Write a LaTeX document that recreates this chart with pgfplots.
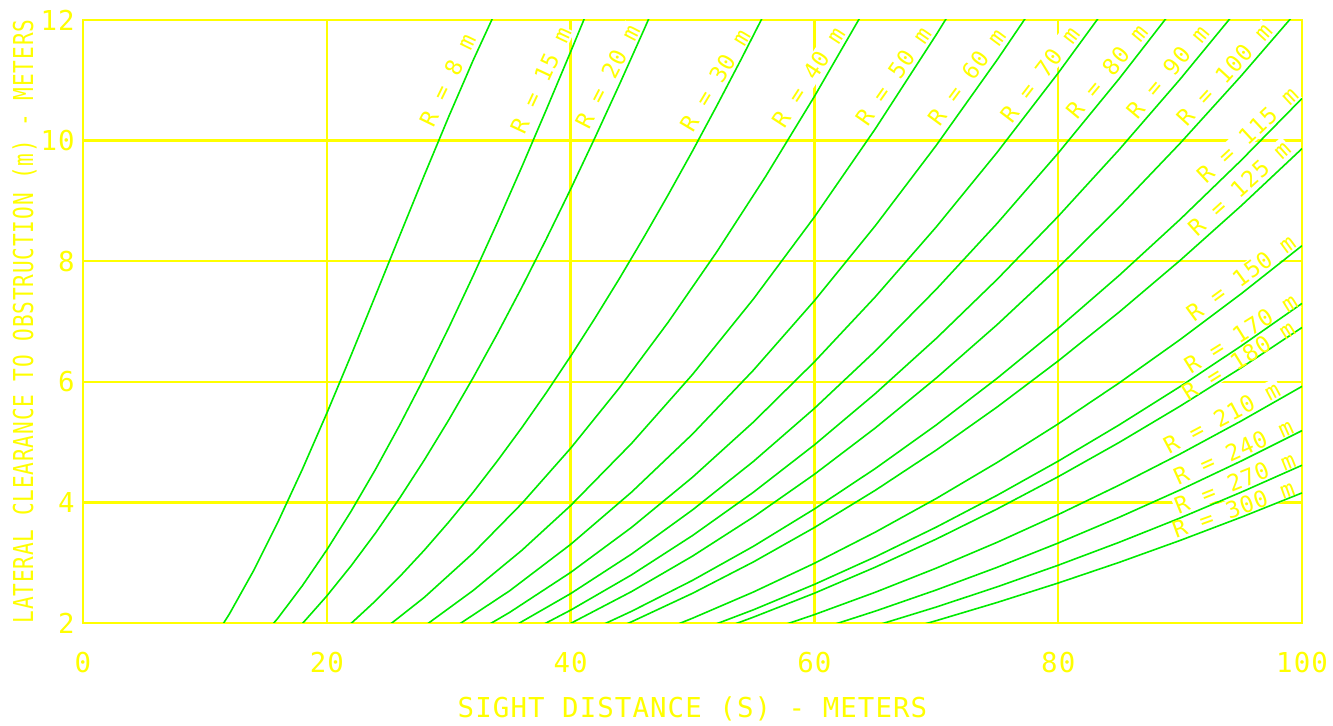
\documentclass[border=0pt]{standalone}
\usepackage{pgfplots}
\pgfplotsset{compat=1.18}
\usepackage{fontspec}
\newfontfamily\cad{DejaVu Sans Mono}[LetterSpace=4.0]
\definecolor{cy}{RGB}{255,255,0}
\definecolor{cg}{RGB}{0,235,0}
\tikzset{lab/.style={font=\cad\fontsize{11.4}{12}\selectfont, text=cy, inner sep=0.7pt},
  curve/.style={draw=cg, line width=0.8pt, mark=none, solid}}
\newcommand\curvelabels[1]{%
 \node[#1,rotate=64] at (axis cs:29.90,11.00) {R = 8 m};
 \node[#1,rotate=65] at (axis cs:37.56,11.00) {R = 15 m};
 \node[#1,rotate=62.6] at (axis cs:43.03,11.06) {R = 20 m};
 \node[#1,rotate=59] at (axis cs:51.85,11.00) {R = 30 m};
 \node[#1,rotate=57] at (axis cs:59.50,11.05) {R = 40 m};
 \node[#1,rotate=55] at (axis cs:66.47,11.07) {R = 50 m};
 \node[#1,rotate=53.5] at (axis cs:72.49,11.06) {R = 60 m};
 \node[#1,rotate=52.5] at (axis cs:78.50,11.10) {R = 70 m};
 \node[#1,rotate=50.5] at (axis cs:83.98,11.14) {R = 80 m};
 \node[#1,rotate=50] at (axis cs:88.97,11.14) {R = 90 m};
 \node[#1,rotate=47.4] at (axis cs:93.62,11.10) {R = 100 m};
 \node[#1,rotate=43] at (axis cs:95.53,10.09) {R = 115 m};
 \node[#1,rotate=42] at (axis cs:94.85,9.21) {R = 125 m};
 \node[#1,rotate=36.3] at (axis cs:94.98,7.73) {R = 150 m};
 \node[#1,rotate=32] at (axis cs:94.97,6.80) {R = 170 m};
 \node[#1,rotate=32] at (axis cs:94.78,6.36) {R = 180 m};
 \node[#1,rotate=28] at (axis cs:93.41,5.41) {R = 210 m};
 \node[#1,rotate=24.3] at (axis cs:94.37,4.84) {R = 240 m};
 \node[#1,rotate=22] at (axis cs:94.50,4.33) {R = 270 m};
 \node[#1,rotate=20] at (axis cs:94.37,3.89) {R = 300 m};
}
\begin{document}
\begin{tikzpicture}
\begin{axis}[
  scale only axis, width=609.5pt, height=301.5pt,
  xmin=0, xmax=100, ymin=2, ymax=12,
  xtick={0,20,40,60,80,100}, ytick={2,4,6,8,10,12},
  grid=major,
  major grid style={cy, line width=1.2pt},
  axis line style={cy, line width=1.2pt},
  major tick length=0pt,
  /pgf/number format/assume math mode=true,
  ticklabel style={font=\cad\fontsize{13.7}{14}\selectfont, text=cy, inner sep=0pt},
  xticklabel style={anchor=base, yshift=-25pt},
  yticklabel style={anchor=east, xshift=-4pt},
  xlabel={SIGHT DISTANCE (S) - METERS},
  ylabel={\scalebox{0.77}[1]{LATERAL CLEARANCE TO OBSTRUCTION (m) - METERS}},
  label style={font=\cad\fontsize{13.7}{14}\selectfont, text=cy, inner sep=0pt},
  xlabel style={at={(axis description cs:0.5,0)}, anchor=base, yshift=-47.5pt},
  ylabel style={at={(axis description cs:-0.04102,0.5)}, anchor=base},
]
\curvelabels{lab,fill=white,text opacity=0}
% R = 8
\addplot[curve] coordinates {(10,1.512) (12,2.146) (14,2.870) (16,3.678) (18,4.551) (20,5.478) (22,6.444) (24,7.434) (26,8.433) (28,9.426) (30,10.396) (32,11.329) (34,12.206)};
% R = 15
\addplot[curve] coordinates {(14,1.604) (16,2.083) (18,2.620) (20,3.212) (22,3.855) (24,4.549) (26,5.290) (28,6.072) (30,6.895) (32,7.755) (34,8.645) (36,9.565) (38,10.509) (40,11.471) (42,12.450)};
% R = 20
\addplot[curve] coordinates {(16,1.579) (18,1.991) (20,2.448) (22,2.950) (24,3.493) (26,4.078) (28,4.703) (30,5.366) (32,6.066) (34,6.800) (36,7.568) (38,8.366) (40,9.194) (42,10.049) (44,10.928) (46,11.830) (48,12.753)};
% R = 30
\addplot[curve] coordinates {(20,1.651) (22,1.994) (24,2.368) (26,2.773) (28,3.208) (30,3.673) (32,4.166) (34,4.690) (36,5.240) (38,5.818) (40,6.423) (42,7.055) (44,7.711) (46,8.394) (48,9.099) (50,9.827) (52,10.580) (54,11.352) (56,12.144)};
% R = 40
\addplot[curve] coordinates {(24,1.787) (28,2.425) (32,3.158) (36,3.982) (40,4.897) (44,5.899) (48,6.987) (52,8.157) (56,9.406) (60,10.732) (64,12.132)};
% R = 50
\addplot[curve] coordinates {(28,1.947) (32,2.538) (36,3.205) (40,3.947) (45,4.978) (50,6.121) (55,7.374) (60,8.733) (65,10.196) (70,11.758) (72,12.410)};
% R = 60
\addplot[curve] coordinates {(30,1.865) (35,2.534) (40,3.303) (45,4.170) (50,5.133) (55,6.193) (60,7.345) (65,8.589) (70,9.922) (75,11.342) (78,12.235)};
% R = 70
\addplot[curve] coordinates {(32,1.821) (35,2.176) (40,2.838) (45,3.585) (50,4.417) (55,5.333) (60,6.331) (65,7.410) (70,8.569) (75,9.807) (80,11.121) (84,12.227)};
% R = 80
\addplot[curve] coordinates {(35,1.906) (40,2.487) (45,3.143) (50,3.875) (55,4.680) (60,5.559) (65,6.511) (70,7.535) (75,8.629) (80,9.793) (85,11.026) (90,12.326)};
% R = 90
\addplot[curve] coordinates {(37,1.895) (40,2.213) (45,2.798) (50,3.450) (55,4.169) (60,4.954) (65,5.805) (70,6.720) (75,7.700) (80,8.744) (85,9.850) (90,11.018) (95,12.247)};
% R = 100
\addplot[curve] coordinates {(40,1.993) (45,2.521) (50,3.109) (55,3.758) (60,4.466) (65,5.235) (70,6.063) (75,6.949) (80,7.894) (85,8.896) (90,9.955) (95,11.071) (100,12.242)};
% R = 115
\addplot[curve] coordinates {(42,1.912) (45,2.194) (50,2.707) (55,3.272) (60,3.891) (65,4.562) (70,5.285) (75,6.060) (80,6.887) (85,7.764) (90,8.693) (95,9.671) (100,10.699)};
% R = 125
\addplot[curve] coordinates {(44,1.931) (45,2.020) (50,2.492) (55,3.013) (60,3.583) (65,4.201) (70,4.868) (75,5.583) (80,6.346) (85,7.156) (90,8.013) (95,8.917) (100,9.867)};
% R = 150
\addplot[curve] coordinates {(48,1.916) (50,2.079) (55,2.514) (60,2.990) (65,3.507) (70,4.065) (75,4.663) (80,5.302) (85,5.981) (90,6.700) (95,7.458) (100,8.257)};
% R = 170
\addplot[curve] coordinates {(50,1.835) (55,2.219) (60,2.640) (65,3.097) (70,3.590) (75,4.119) (80,4.684) (85,5.285) (90,5.921) (95,6.593) (100,7.300)};
% R = 180
\addplot[curve] coordinates {(53,1.947) (55,2.097) (60,2.494) (65,2.926) (70,3.392) (75,3.892) (80,4.426) (85,4.994) (90,5.596) (95,6.231) (100,6.900)};
% R = 210
\addplot[curve] coordinates {(57,1.933) (60,2.139) (65,2.510) (70,2.910) (75,3.339) (80,3.798) (85,4.286) (90,4.803) (95,5.349) (100,5.924)};
% R = 240
\addplot[curve] coordinates {(61,1.936) (65,2.197) (70,2.548) (75,2.924) (80,3.326) (85,3.753) (90,4.206) (95,4.685) (100,5.190)};
% R = 270
\addplot[curve] coordinates {(65,1.954) (70,2.265) (75,2.600) (80,2.958) (85,3.338) (90,3.741) (95,4.168) (100,4.616)};
% R = 300
\addplot[curve] coordinates {(69,1.981) (70,2.039) (75,2.341) (80,2.663) (85,3.005) (90,3.369) (95,3.753) (100,4.157)};
\curvelabels{lab}
\end{axis}
\pgfresetboundingbox
\path[use as bounding box] (-41.5pt,-51.5pt) rectangle (625pt,311.5pt);
\end{tikzpicture}
\end{document}
